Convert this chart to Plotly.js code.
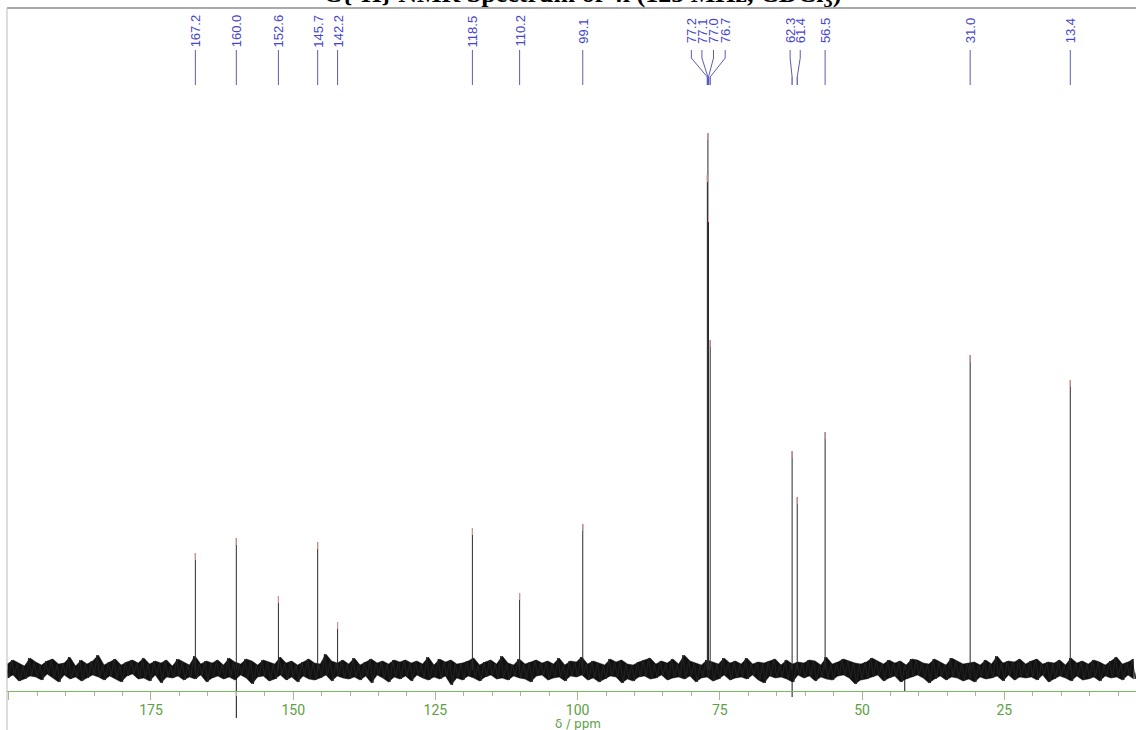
<!DOCTYPE html>
<html><head><meta charset="utf-8">
<script src="https://cdn.plot.ly/plotly-3.0.1.min.js"></script>
<style>html,body{margin:0;padding:0;background:#fff}#chart{width:1136px;height:730px}</style>
</head><body><div id="chart"></div>
<script>
// ---- data ----
const peakPpm    = [167.2,160.0,152.6,145.7,142.2,118.5,110.2,99.1,77.2,77.1,77.0,76.7,62.3,61.4,56.5,31.0,13.4];
const peakHeight = [117,132,74,128,48,142,77,146,495,537,455,330,219,173,238,315,290];
const peakLabels = ["167.2","160.0","152.6","145.7","142.2","118.5","110.2","99.1","77.2","77.1","77.0","76.7","62.3","61.4","56.5","31.0","13.4"];
const dipPpm   = [160.0, 62.3, 42.5];
const dipDepth = [-48, -27, -22];
// baseline noise, sampled every 0.5 ppm starting at 200.5 ppm (estimated amplitudes)
const noiseStart = 200.5, noiseStep = -0.5;
const noiseValues = [
 6,-8,10,-5,7,-11,4,-9,12,-6,8,-7,5,-10,9,-4,11,-8,6,-12,
 7,-5,13,-9,4,-7,10,-11,6,-8,9,-5,15,-7,5,-10,8,-6,11,-9,
 5,-12,8,-6,10,-4,7,-9,12,-8,6,-11,9,-5,7,-13,10,-7,4,-8,
 11,-6,8,-10,5,-7,14,-9,6,-5,9,-12,7,-8,10,-6,5,-9,12,-7,
 8,-10,6,-5,11,-8,9,-14,5,-7,10,-6,8,-11,6,-9,13,-5,7,-10,
 9,-7,5,-12,8,-6,11,-9,7,-10,6,-8,16,-5,9,-11,7,-6,10,-8,
 6,-9,12,-7,5,-10,8,-6,11,-13,7,-5,9,-8,6,-12,10,-7,8,-9,
 10,-6,7,-11,9,-5,6,-8,13,-10,5,-7,11,-9,8,-6,10,-15,6,-8,
 7,-10,9,-6,12,-8,5,-11,8,-7,10,-5,6,-9,14,-8,7,-10,5,-6,
 11,-8,6,-9,8,-12,10,-6,7,-5,9,-10,6,-8,12,-7,5,-11,9,-6,
 8,-7,13,-5,6,-10,9,-8,7,-12,5,-9,11,-6,8,-7,10,-13,6,-9,
 5,-11,8,-7,10,-6,12,-9,6,-8,9,-5,7,-10,11,-8,6,-7,15,-9,
 9,-6,7,-12,5,-8,10,-7,8,-11,6,-9,12,-5,7,-10,9,-8,6,-7,
 12,-9,6,-5,8,-10,7,-13,9,-6,11,-8,5,-7,10,-9,6,-12,8,-5,
 7,-8,10,-6,9,-11,5,-7,13,-9,6,-10,8,-6,11,-5,9,-8,7,-14,
 6,-10,8,-9,12,-7,9,-5,6,-11,10,-8,7,-6,9,-12,5,-9,11,-7,
 10,-5,7,-8,6,-13,11,-9,8,-6,5,-10,12,-7,9,-8,6,-11,7,-9,
 8,-12,5,-7,10,-9,6,-8,14,-6,7,-11,9,-5,8,-10,11,-7,6,-8,
 9,-7,11,-10,6,-5,8,-12,7,-9,10,-6,5,-8,12,-11,7,-6,9,-10,
 6,-9,10,-7,8,-11,5,-6,9,-8,13,-7,6,-10,8,-5,11,-9,7
];
const tickStep = 25, minorStep = 5;
const xTitle = "δ / ppm";
const chartTitle = "<sup>13</sup>C{<sup>1</sup>H} NMR Spectrum of 4i (125 MHz, CDCl<sub>3</sub>)";

// ---- layout geometry ----
const W = 1136, H = 730, ML = 7, MT = 8;
const xRange = [200.31, 1.85];
const yRange = [-60, 662];
const plotW = W - ML, plotH = H - MT;
const ppmPerPx = (xRange[0] - xRange[1]) / plotW;
const py = p => (H - p) / plotH;          // pixel y -> paper y
const pxp = p => (p - ML) / plotW;        // pixel x -> paper x
const labelShiftPx = [0,0,0,0,0,0,0,0,-16,-6,5,15,-2,3,0,0,0];

// noise: sample positions, plus the local upper/lower envelope of each pair of samples
const noiseX = noiseValues.map((_, i) => noiseStart + i * noiseStep);
const envX = [], envHi = [], envLo = [];
for (let i = 0; i + 1 < noiseValues.length; i += 2) {
  envX.push((noiseX[i] + noiseX[i + 1]) / 2);
  envHi.push(Math.max(noiseValues[i], noiseValues[i + 1]));
  envLo.push(Math.min(noiseValues[i], noiseValues[i + 1]));
}

// peaks
const px = [], pyv = [], mx = [], my = [];
peakPpm.forEach((p, i) => {
  px.push(p, p, null); pyv.push(0, peakHeight[i], null);
  mx.push(p, p, null); my.push(peakHeight[i] - 7, peakHeight[i], null);
});
const dx = [], dy = [];
dipPpm.forEach((p, i) => { dx.push(p, p, null); dy.push(0, dipDepth[i], null); });

const traces = [
  {x: envX, y: envLo, mode: 'lines', line: {color: '#111', width: 0.5}, hoverinfo: 'skip', showlegend: false},
  {x: envX, y: envHi, mode: 'lines', fill: 'tonexty', fillcolor: '#111', line: {color: '#111', width: 0.5}, hoverinfo: 'skip', showlegend: false},
  {x: noiseX, y: noiseValues, mode: 'lines', line: {color: '#222', width: 1}, hoverinfo: 'skip', showlegend: false},
  {x: dx, y: dy, mode: 'lines', line: {color: '#111', width: 1}, hoverinfo: 'skip', showlegend: false},
  {x: px, y: pyv, mode: 'lines', line: {color: '#2a2a2a', width: 1}, hoverinfo: 'skip', showlegend: false},
  {x: mx, y: my, mode: 'lines', line: {color: '#e49a9a', width: 1}, hoverinfo: 'skip', showlegend: false}
];

const annotations = [];
const shapes = [];
const blue = '#4444cc', leader = '#5c5cb4';
peakPpm.forEach((p, i) => {
  const lx = p - labelShiftPx[i] * ppmPerPx;
  annotations.push({x: lx, xref: 'x', y: py(31), yref: 'paper', text: peakLabels[i], textangle: -90,
    showarrow: false, xanchor: 'center', yanchor: 'middle', font: {family: 'Arial, Liberation Sans', size: 13, color: blue}});
  if (labelShiftPx[i] === 0) {
    shapes.push({type: 'line', xref: 'x', yref: 'paper', x0: p, x1: p, y0: py(50), y1: py(85), line: {color: leader, width: 1}});
  } else {
    shapes.push({type: 'line', xref: 'x', yref: 'paper', x0: lx, x1: lx, y0: py(50), y1: py(58), line: {color: leader, width: 1}});
    shapes.push({type: 'line', xref: 'x', yref: 'paper', x0: lx, x1: p, y0: py(58), y1: py(77), line: {color: leader, width: 1}});
    shapes.push({type: 'line', xref: 'x', yref: 'paper', x0: p, x1: p, y0: py(77), y1: py(85), line: {color: leader, width: 1.3}});
  }
});
// frame
shapes.push({type: 'line', xref: 'paper', yref: 'paper', x0: 0, x1: 1, y0: 1, y1: 1, line: {color: '#555', width: 1.2}});
shapes.push({type: 'line', xref: 'paper', yref: 'paper', x0: 0, x1: 0, y0: 0, y1: 1, line: {color: '#bbb', width: 1}});

annotations.push({x: pxp(573), xref: 'paper', y: py(13), yref: 'paper', text: chartTitle, showarrow: false,
  xanchor: 'center', yanchor: 'bottom', font: {family: 'Liberation Serif, Times New Roman', size: 26, color: '#000', weight: 'bold'}});
annotations.push({x: pxp(578), xref: 'paper', y: py(724), yref: 'paper', text: xTitle, showarrow: false,
  xanchor: 'center', yanchor: 'middle', font: {family: 'DejaVu Sans', size: 12, color: '#5c9e44'}});

const green = '#7cb866';
const layout = {
  width: W, height: H,
  margin: {l: ML, r: 0, t: MT, b: 0, pad: 0},
  paper_bgcolor: '#fff', plot_bgcolor: '#fff',
  showlegend: false,
  xaxis: {range: xRange, anchor: 'free', position: (H - 691) / plotH,
    showgrid: false, zeroline: false, showline: true, linecolor: green, linewidth: 1,
    ticks: 'outside', ticklen: 8, tickwidth: 1, tickcolor: '#9bbf8c', tick0: 0, dtick: tickStep,
    ticklabelstandoff: -2,
    tickfont: {family: 'Roboto', size: 14, color: '#5c9e44'},
    minor: {dtick: minorStep, tick0: 0, ticks: 'outside', ticklen: 4, tickcolor: '#9bbf8c', showgrid: false}},
  yaxis: {range: yRange, visible: false, showgrid: false, zeroline: false},
  annotations, shapes
};
Plotly.newPlot('chart', traces, layout, {staticPlot: true, displayModeBar: false});
</script></body></html>
